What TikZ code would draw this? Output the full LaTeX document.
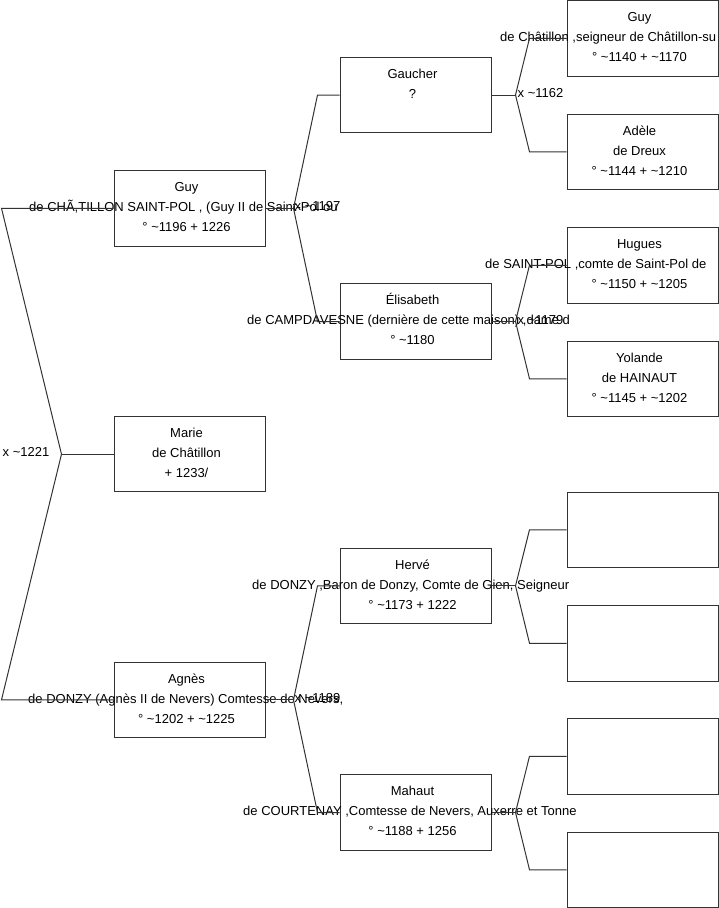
\documentclass[tikz,border=0pt]{standalone}
\usepackage{fontspec}
\setmainfont{Liberation Sans}
\usetikzlibrary{calc}
\newcommand\tld{\textasciitilde}
\begin{document}
\begin{tikzpicture}[x=1pt,y=-1pt,
  pbox/.style={draw=black!80, line width=1pt, minimum width=151pt, minimum height=75.5pt, inner sep=0pt},
  ptext/.style={inner sep=0pt, anchor=base, font=\fontsize{13}{15}\selectfont, text=black},
  pleft/.style={ptext, anchor=base west},
  link/.style={draw=black!80, line width=1pt},
  mlabel/.style={ptext, anchor=base west}]
\useasboundingbox (0,0) rectangle (719,908);

% ---------- boxes ----------
% generation 1
\node[pbox] (guy1)  at (189.5,208.3) {};
\node[pbox] (marie) at (189.5,454.2) {};
\node[pbox] (agnes) at (189.5,699.8) {};
% generation 2
\node[pbox] (gaucher) at (415.5,95)    {};
\node[pbox] (elis)    at (415.5,321.5) {};
\node[pbox] (herve)   at (415.5,585.8) {};
\node[pbox] (mahaut)  at (415.5,812.5) {};
% generation 3
\node[pbox] (guy3)   at (642.5,38.25)  {};
\node[pbox] (adele)  at (642.5,151.75) {};
\node[pbox] (hugues) at (642.5,265.25) {};
\node[pbox] (yol)    at (642.5,378.75) {};
\node[pbox] (e1)     at (642.5,529.75) {};
\node[pbox] (e2)     at (642.5,643.25) {};
\node[pbox] (e3)     at (642.5,756.25) {};
\node[pbox] (e4)     at (642.5,869.75) {};

% ---------- texts ----------
\node[ptext] (guy1-1) at ($(guy1.center)+(-3,-16.75)$) {Guy};
\node[pleft] (guy1-2) at (29,211.5) {de CHÃ,TILLON SAINT-POL , (Guy II de Saint-Pol ou};
\node[ptext] (guy1-3) at ($(guy1.center)+(-3,23.25)$) {° \tld1196 + 1226};

\node[ptext] (marie-1) at ($(marie.center)+(-3,-16.75)$) {Marie};
\node[ptext] (marie-2) at ($(marie.center)+(-3,3.25)$) {de Châtillon};
\node[ptext] (marie-3) at ($(marie.center)+(-3,23.25)$) {+ 1233/};

\node[ptext] (agnes-1) at ($(agnes.center)+(-3,-16.75)$) {Agnès};
\node[pleft] (agnes-2) at (28,703) {de DONZY (Agnès II de Nevers) Comtesse de Nevers,};
\node[ptext] (agnes-3) at ($(agnes.center)+(-3,23.25)$) {° \tld1202 + \tld1225};

\node[ptext] (gaucher-1) at ($(gaucher.center)+(-3,-16.75)$) {Gaucher};
\node[ptext] (gaucher-2) at ($(gaucher.center)+(-3,3.25)$) {?};

\node[ptext] (elis-1) at ($(elis.center)+(-3,-16.75)$) {Élisabeth};
\node[pleft] (elis-2) at (247,324.75) {de CAMPDAVESNE (dernière de cette maison) ,dame d};
\node[ptext] (elis-3) at ($(elis.center)+(-3,23.25)$) {° \tld1180};

\node[ptext] (herve-1) at ($(herve.center)+(-3,-16.75)$) {Hervé};
\node[pleft] (herve-2) at (252,589) {de DONZY ,Baron de Donzy, Comte de Gien, Seigneur};
\node[ptext] (herve-3) at ($(herve.center)+(-3,23.25)$) {° \tld1173 + 1222};

\node[ptext] (mahaut-1) at ($(mahaut.center)+(-3,-16.75)$) {Mahaut};
\node[pleft] (mahaut-2) at (243,815.75) {de COURTENAY ,Comtesse de Nevers, Auxerre et Tonne};
\node[ptext] (mahaut-3) at ($(mahaut.center)+(-3,23.25)$) {° \tld1188 + 1256};

\node[ptext] (guy3-1) at ($(guy3.center)+(-3,-16.75)$) {Guy};
\node[pleft] (guy3-2) at (500,41.5) {de Châtillon ,seigneur de Châtillon-su};
\node[ptext] (guy3-3) at ($(guy3.center)+(-3,23.25)$) {° \tld1140 + \tld1170};

\node[ptext] (adele-1) at ($(adele.center)+(-3,-16.75)$) {Adèle};
\node[ptext] (adele-2) at ($(adele.center)+(-3,3.25)$) {de Dreux};
\node[ptext] (adele-3) at ($(adele.center)+(-3,23.25)$) {° \tld1144 + \tld1210};

\node[ptext] (hugues-1) at ($(hugues.center)+(-3,-16.75)$) {Hugues};
\node[pleft] (hugues-2) at (485,268.5) {de SAINT-POL ,comte de Saint-Pol de};
\node[ptext] (hugues-3) at ($(hugues.center)+(-3,23.25)$) {° \tld1150 + \tld1205};

\node[ptext] (yol-1) at ($(yol.center)+(-3,-16.75)$) {Yolande};
\node[ptext] (yol-2) at ($(yol.center)+(-3,3.25)$) {de HAINAUT};
\node[ptext] (yol-3) at ($(yol.center)+(-3,23.25)$) {° \tld1145 + \tld1202};

% ---------- connectors ----------
% generation 0 -> 1
\coordinate (f0) at ($(marie.west)+(-52,0)$);
\draw[link] (marie.west) -- (f0);
\draw[link] (f0) -- ($(guy1.west)+(-112,0)$) -- (guy1.west);
\draw[link] (f0) -- ($(agnes.west)+(-112,0)$) -- (agnes.west);
\node[mlabel] (m0) at ($(f0)+(-59,2.5)$) {x \tld1221};

% generation 1 -> 2
\coordinate (f1) at ($(guy1.east)+(28,0)$);
\draw[link] (guy1.east) -- (f1);
\draw[link] (f1) -- ($(gaucher.west)+(-22,0)$) -- (gaucher.west);
\draw[link] (f1) -- ($(elis.west)+(-22,0)$) -- (elis.west);
\node[mlabel] (m1) at ($(f1)+(1,2.5)$) {x \tld1197};

\coordinate (f2) at ($(agnes.east)+(28,0)$);
\draw[link] (agnes.east) -- (f2);
\draw[link] (f2) -- ($(herve.west)+(-22,0)$) -- (herve.west);
\draw[link] (f2) -- ($(mahaut.west)+(-22,0)$) -- (mahaut.west);
\node[mlabel] (m2) at ($(f2)+(1,2.5)$) {x \tld1189};

% generation 2 -> 3
\coordinate (f3) at ($(gaucher.east)+(24,0)$);
\draw[link] (gaucher.east) -- (f3);
\draw[link] (f3) -- ($(guy3.west)+(-37,0)$) -- (guy3.west);
\draw[link] (f3) -- ($(adele.west)+(-37,0)$) -- (adele.west);
\node[mlabel] (m3) at ($(f3)+(2,2.5)$) {x \tld1162};

\coordinate (f4) at ($(elis.east)+(24,0)$);
\draw[link] (elis.east) -- (f4);
\draw[link] (f4) -- ($(hugues.west)+(-37,0)$) -- (hugues.west);
\draw[link] (f4) -- ($(yol.west)+(-37,0)$) -- (yol.west);
\node[mlabel] (m4) at ($(f4)+(2,2.5)$) {x \tld1179};

\coordinate (f5) at ($(herve.east)+(24,0)$);
\draw[link] (herve.east) -- (f5);
\draw[link] (f5) -- ($(e1.west)+(-37,0)$) -- (e1.west);
\draw[link] (f5) -- ($(e2.west)+(-37,0)$) -- (e2.west);

\coordinate (f6) at ($(mahaut.east)+(24,0)$);
\draw[link] (mahaut.east) -- (f6);
\draw[link] (f6) -- ($(e3.west)+(-37,0)$) -- (e3.west);
\draw[link] (f6) -- ($(e4.west)+(-37,0)$) -- (e4.west);
\end{tikzpicture}
\end{document}
